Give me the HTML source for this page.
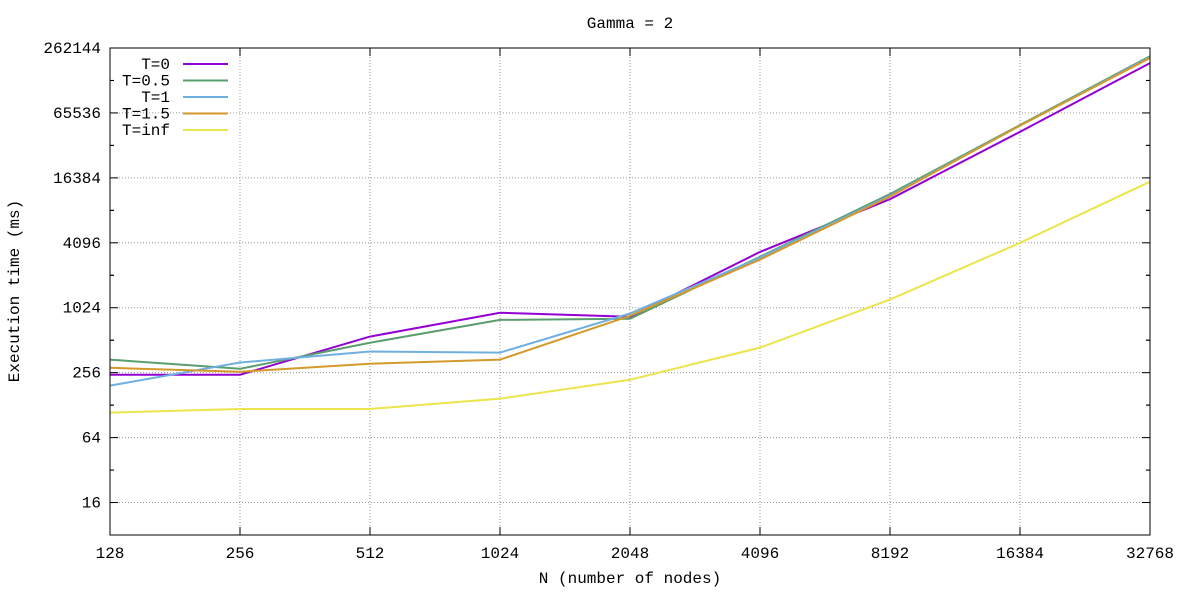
<!DOCTYPE html>
<html><head><meta charset="utf-8"><style>
body{margin:0;background:#fff}
svg text{font-family:"Liberation Mono",monospace;font-size:16px;fill:#000}
</style></head><body>
<svg id="chart" width="1179" height="589" xmlns="http://www.w3.org/2000/svg">
<text x="630" y="28" text-anchor="middle">Gamma = 2</text>
<text x="630" y="583" text-anchor="middle">N (number of nodes)</text>
<text transform="translate(19,291) rotate(-90)" text-anchor="middle">Execution time (ms)</text>
<g id="grid"></g><g id="series"></g><g id="legend"></g>
<rect x="110" y="48" width="1040" height="487" fill="none" stroke="#000" stroke-width="1"/>
</svg>
<script>
const categories=[128,256,512,1024,2048,4096,8192,16384,32768];
const seriesNames=["T=0","T=0.5","T=1","T=1.5","T=inf"];
const t0=[245,245,553,920,845,3370,10400,43800,190000];
const t05=[338,278,485,790,810,3040,11600,50600,220000];
const t1=[194,318,402,393,905,2980,11200,50000,215000];
const t15=[284,261,310,338,862,2860,11000,50000,212000];
const tinf=[109,118,118,147,220,437,1220,4096,15100];
const yTicks=[16,64,256,1024,4096,16384,65536,262144];
const colors=["#9400d3","#5a9e6e","#6fb0e0","#d4992a","#ece44c"];
const ns="http://www.w3.org/2000/svg";
const X0=110,X1=1150,Y0=535,Y1=48;
const xs=v=>X0+(Math.log2(v)-7)/8*(X1-X0);
const ys=v=>Y0-(Math.log2(v)-3)/15*(Y0-Y1);
function mk(t,a,p){const e=document.createElementNS(ns,t);for(const k in a)e.setAttribute(k,a[k]);p.appendChild(e);return e;}
const grid=document.getElementById('grid');
categories.forEach(c=>{const x=xs(c);
 const l=mk('line',{x1:x,x2:x,y1:Y1,y2:Y0,stroke:'#999','stroke-dasharray':'1,2'},grid);
 
 
 mk('line',{x1:x,x2:x,y1:Y0,y2:Y0-8,stroke:'#000'},grid);mk('line',{x1:x,x2:x,y1:Y1,y2:Y1+8,stroke:'#000'},grid);
 const t=mk('text',{x:x,y:558,'text-anchor':'middle'},grid);t.textContent=c;
 
 });
yTicks.forEach(v=>{const y=ys(v);
 const l=mk('line',{x1:X0,x2:X1,y1:y,y2:y,stroke:'#999','stroke-dasharray':'1,2'},grid);
 
 
 mk('line',{x1:X0,x2:X0+8,y1:y,y2:y,stroke:'#000'},grid);mk('line',{x1:X1,x2:X1-8,y1:y,y2:y,stroke:'#000'},grid);
 [v*2,v/2].forEach(mv=>{const m=ys(mv);if(m>Y1&&m<Y0){mk('line',{x1:X0,x2:X0+4,y1:m,y2:m,stroke:'#000'},grid);mk('line',{x1:X1,x2:X1-4,y1:m,y2:m,stroke:'#000'},grid);}});
 const t=mk('text',{x:101,y:y+5,'text-anchor':'end'},grid);t.textContent=v;
 
 });
const sg=document.getElementById('series'),lg=document.getElementById('legend');
[t0,t05,t1,t15,tinf].forEach((d,i)=>{
 const p=mk('polyline',{points:d.map((v,j)=>xs(categories[j])+','+ys(v)).join(' '),fill:'none',stroke:colors[i],'stroke-width':2},sg);
 
 
 const y=64+i*16.5;
 const t=mk('text',{x:170,y:y+5,'text-anchor':'end'},lg);t.textContent=seriesNames[i];
 
 
 const l=mk('line',{x1:183,x2:228,y1:y,y2:y,stroke:colors[i],'stroke-width':2},lg);
 
 
});
</script>
</body></html>
